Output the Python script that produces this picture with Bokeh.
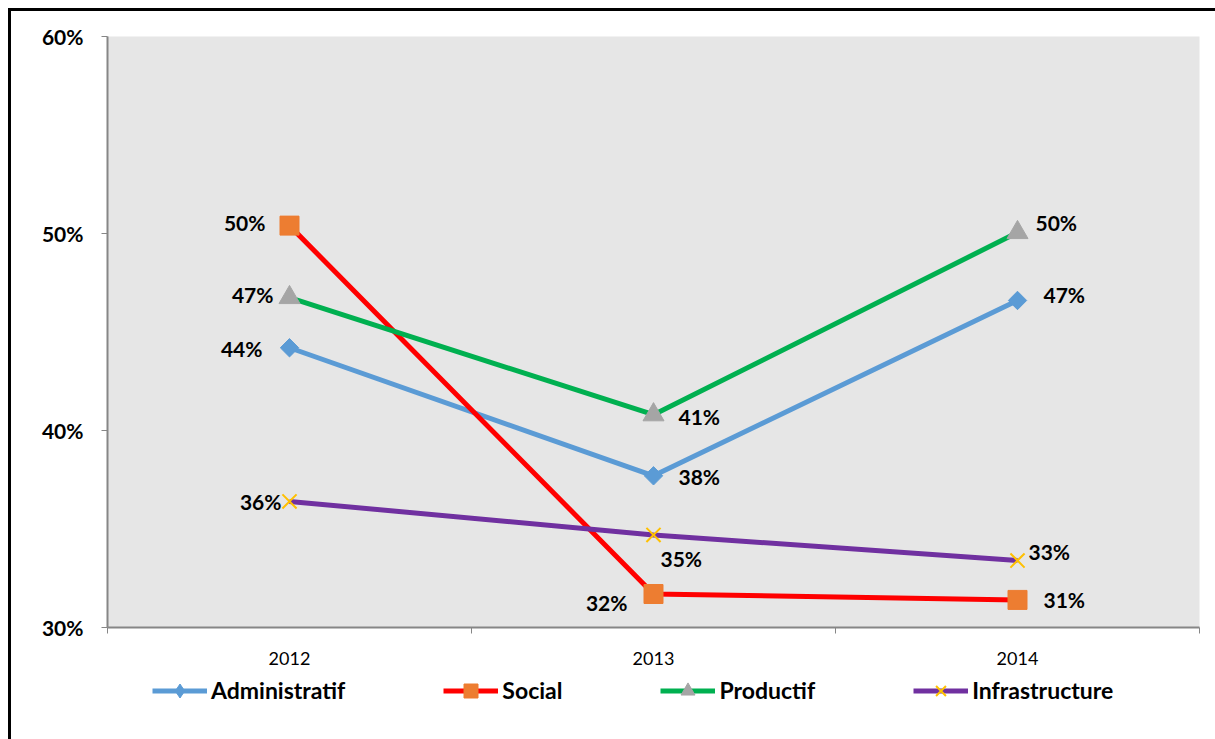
import math
from bokeh.plotting import figure
from bokeh.layouts import column
from bokeh.models import (Range1d, FixedTicker, NumeralTickFormatter, Legend, LegendItem,
                          ColumnDataSource)
from bokeh.core.properties import value
from bokeh.embed import file_html
from bokeh.resources import INLINE

years = ["2012", "2013", "2014"]
administratif = [0.442, 0.377, 0.466]
social = [0.504, 0.317, 0.314]
productif = [0.4675, 0.408, 0.5005]
infrastructure = [0.364, 0.347, 0.334]
y_ticks = [0.30, 0.40, 0.50, 0.60]

FONT = "Lato"
OFF = 11  # outer frame offset (margin + border)
W = 1215 - OFF
H_MAIN = 660
H_LEG = 739 - OFF - H_MAIN

x = [i + 0.5 for i in range(len(years))]

p = figure(width=W, height=H_MAIN, output_backend="svg", toolbar_location=None,
           x_range=Range1d(0, len(years)), y_range=Range1d(0.30, 0.60),
           min_border_left=107 - OFF, min_border_right=16, min_border_top=36 - OFF,
           min_border_bottom=H_MAIN + OFF - 627)
p.background_fill_color = "#E6E6E6"
p.border_fill_color = "white"
p.outline_line_color = None
p.xgrid.visible = False
p.ygrid.visible = False

# axes
p.xaxis.ticker = FixedTicker(ticks=x, minor_ticks=list(range(len(years) + 1)))
p.xaxis.major_label_overrides = {xi: y for xi, y in zip(x, years)}
p.xaxis.major_tick_line_color = None
p.xaxis.minor_tick_line_color = "#868686"
p.xaxis.minor_tick_out = 6
p.xaxis.minor_tick_in = 0
p.xaxis.axis_line_color = "#868686"
p.xaxis.axis_line_width = 2
p.xaxis.major_label_text_font = FONT
p.xaxis.major_label_text_font_size = "18px"
p.xaxis.major_label_text_color = "black"
p.xaxis.major_label_standoff = 18

p.yaxis.ticker = FixedTicker(ticks=y_ticks, minor_ticks=[])
p.yaxis.formatter = NumeralTickFormatter(format="0%")
p.yaxis.axis_line_color = "#868686"
p.yaxis.axis_line_width = 2
p.yaxis.major_tick_line_color = "#868686"
p.yaxis.major_tick_out = 6
p.yaxis.major_tick_in = 0
p.yaxis.minor_tick_line_color = None
p.yaxis.major_label_text_font = FONT
p.yaxis.major_label_text_font_style = "bold"
p.yaxis.major_label_text_font_size = "21px"
p.yaxis.major_label_text_color = "black"
p.yaxis.major_label_standoff = 18

series = [
    ("Administratif", administratif, "#5B9BD5",
     dict(marker="square", size=13, angle=math.pi / 4, fill_color="#5B9BD5", line_color="#5B9BD5"),
     dict(marker="diamond", fill_color="#5B9BD5", line_color="#5B9BD5")),
    ("Social", social, "#FF0000",
     dict(marker="square", size=19, fill_color="#ED7D31", line_color="#ED7D31"),
     dict(marker="square", fill_color="#ED7D31", line_color="#ED7D31")),
    ("Productif", productif, "#00B050",
     dict(marker="triangle", size=21, fill_color="#A5A5A5", line_color="#A5A5A5"),
     dict(marker="triangle", fill_color="#A5A5A5", line_color="#A5A5A5")),
    ("Infrastructure", infrastructure, "#7030A0",
     dict(marker="x", size=20, line_color="#FFC000", line_width=2),
     dict(marker="x", line_color="#FFC000", line_width=2)),
]

# label placement (screen offsets, alignment) — styling, not data
label_place = {
    "Administratif": [(-27, 1, "right"), (25, 1, "left"), (26, -6, "left")],
    "Social": [(-24, -3, "right"), (-26, 8, "right"), (26, 0, "left")],
    "Productif": [(-16, -3, "right"), (25, 2, "left"), (18, -10, "left")],
    "Infrastructure": [(-8, 0, "right"), (7, 24, "left"), (11, -9, "left")],
}

for name, vals, color, mk, _ in series:
    src = ColumnDataSource(dict(x=x, y=vals))
    p.line("x", "y", source=src, line_color=color, line_width=5)
    p.scatter("x", "y", source=src, **mk)

for name, vals, color, mk, _ in series:
    for i, v in enumerate(vals):
        dx, dy, al = label_place[name][i]
        p.text(x=[x[i]], y=[v], text=[f"{round(v * 100):.0f}%"], x_offset=dx, y_offset=dy,
               text_align=al, text_baseline="middle", text_font=value(FONT),
               text_font_style="bold", text_font_size="21px", text_color="black")

# legend strip (separate figure below the chart); its renderers reuse the series
# values but lie outside this strip's visible range, so only the legend shows
pl = figure(width=W, height=H_LEG, output_backend="svg", toolbar_location=None,
            x_range=Range1d(100, 101), y_range=Range1d(100, 101),
            x_axis_location=None, y_axis_location=None,
            min_border_left=0, min_border_right=0, min_border_top=0, min_border_bottom=0)
pl.outline_line_color = None
pl.xgrid.visible = False
pl.ygrid.visible = False
pl.background_fill_color = "white"
pl.border_fill_color = "white"

items = []
for name, vals, color, mk, lmk in series:
    src = ColumnDataSource(dict(x=x, y=vals))
    lr = pl.line("x", "y", source=src, line_color=color, line_width=5)
    sr = pl.scatter("x", "y", source=src, **lmk)
    items.append(LegendItem(label=name, renderers=[lr, sr]))

legend = Legend(items=items, orientation="horizontal", location=(45, H_LEG - 19 - 17.5),
                label_text_font=FONT, label_text_font_style="bold", label_text_font_size="23px",
                label_text_color="black", glyph_width=55, glyph_height=35, label_standoff=4,
                spacing=98, padding=0, margin=0, border_line_color=None,
                background_fill_alpha=0)
pl.add_layout(legend, "center")

layout = column(p, pl, spacing=0)
layout.styles = {"margin-left": "8px", "margin-top": "8px",
                 "border-left": "3px solid black", "border-top": "3px solid black"}

open("out.html", "w").write(file_html(layout, INLINE))
